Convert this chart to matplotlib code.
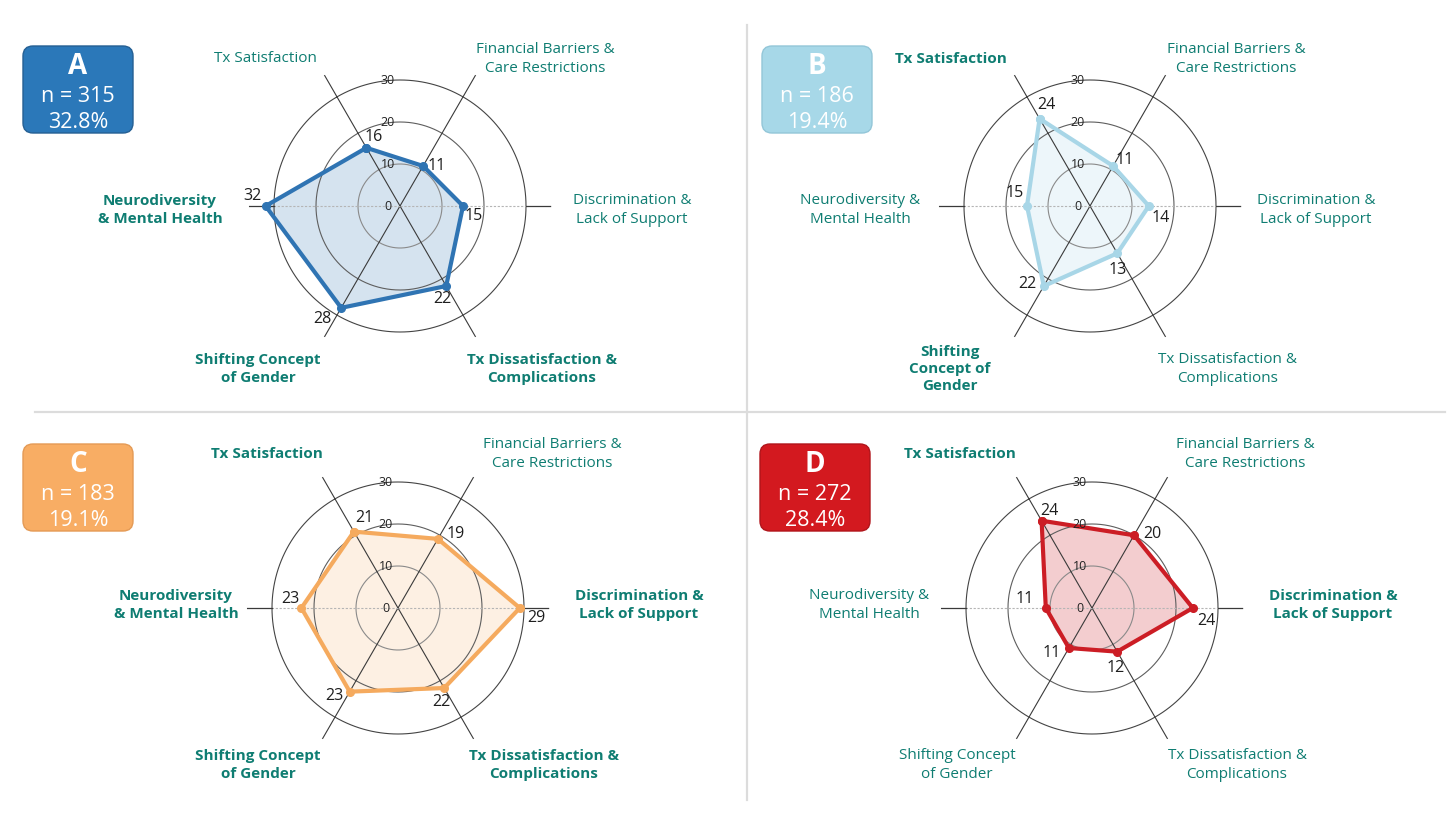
import numpy as np
import matplotlib
matplotlib.use('Agg')
import matplotlib.pyplot as plt
from matplotlib.patches import FancyBboxPatch

plt.rcParams['font.family'] = ['Open Sans', 'DejaVu Sans']

# ---- data ----
categories = ['Tx Satisfaction', 'Financial Barriers & Care Restrictions',
              'Discrimination & Lack of Support', 'Tx Dissatisfaction & Complications',
              'Shifting Concept of Gender', 'Neurodiversity & Mental Health']
panel_ids = ['A', 'B', 'C', 'D']
n_sizes = [315, 186, 183, 272]
pct = ['32.8%', '19.4%', '19.1%', '28.4%']
vals_A = [16, 11, 15, 22, 28, 32]
vals_B = [24, 11, 14, 13, 22, 15]
vals_C = [21, 19, 29, 22, 23, 23]
vals_D = [24, 20, 24, 12, 11, 11]
r_ticks = [0, 10, 20, 30]

# wrapped label text + which labels are bold in each panel
lab_AC = ['Tx Satisfaction', 'Financial Barriers &\nCare Restrictions', 'Discrimination &\nLack of Support',
          'Tx Dissatisfaction &\nComplications', 'Shifting Concept\nof Gender', 'Neurodiversity\n& Mental Health']
lab_B = ['Tx Satisfaction', 'Financial Barriers &\nCare Restrictions', 'Discrimination &\nLack of Support',
         'Tx Dissatisfaction &\nComplications', 'Shifting\nConcept of\nGender', 'Neurodiversity &\nMental Health']
lab_D = ['Tx Satisfaction', 'Financial Barriers &\nCare Restrictions', 'Discrimination &\nLack of Support',
         'Tx Dissatisfaction &\nComplications', 'Shifting Concept\nof Gender', 'Neurodiversity &\nMental Health']
bold_A = [0, 0, 0, 1, 1, 1]
bold_B = [1, 0, 0, 0, 1, 0]
bold_C = [1, 0, 1, 1, 1, 1]
bold_D = [1, 0, 1, 0, 0, 0]

# ---- styling / layout ----
W, H = 1456, 825
centers = [(400, 206), (1090, 206), (398, 608), (1092, 608)]
px_per_unit = 4.2
rmax = 36
line_cols = ['#2f74b3', '#a8d6e7', '#f5aa5e', '#cc1d25']
fill_alpha = [0.2, 0.2, 0.17, 0.22]
box_cols = ['#2b78b9', '#a7d8e8', '#f8ad64', '#d3191f']
box_edges = ['#245f93', '#93c6d8', '#e49a55', '#b0141a']
box_pos = [(23, 46), (762, 46), (23, 444), (760, 444)]
teal = '#0f7d72'
# category label centres, pixels from the chart centre (right/down positive), per panel
lab_off = [
    [(-135, -147), (145, -147), (232, 4), (142, 163), (-142, 163), (-240, 4)],
    [(-139, -147), (146, -147), (226, 4), (138, 163), (-140, 163), (-230, 4)],
    [(-131, -154), (154, -154), (241, -3), (146, 157), (-140, 157), (-222, -3)],
    [(-132, -154), (153, -154), (241, -3), (145, 157), (-135, 157), (-223, -3)],
]
val_off = [
    [(7, -11), (14, 0), (11, 10), (-4, 13), (-19, 11), (-13, -10)],
    [(7, -14), (12, -6), (12, 12), (0, 17), (-16, -2), (-12, -13)],
    [(10, -14), (18, -5), (17, 10), (-3, 14), (-15, 4), (-11, -9)],
    [(8, -10), (18, -1), (14, 13), (-2, 16), (-17, 5), (-21, -9)],
]

fig = plt.figure(figsize=(W / 100, H / 100), dpi=100)
bg = fig.add_axes([0, 0, 1, 1], zorder=0)
bg.set_xlim(0, W)
bg.set_ylim(H, 0)
bg.axis('off')

# divider lines
bg.plot([747, 747], [25, 800], color='#dcdcdc', lw=1.6)
bg.plot([35, 1445], [412, 412], color='#dcdcdc', lw=1.6)

all_vals = [vals_A, vals_B, vals_C, vals_D]
all_labs = [lab_AC, lab_B, lab_AC, lab_D]
all_bold = [bold_A, bold_B, bold_C, bold_D]
theta = np.arange(len(categories)) * 2 * np.pi / len(categories)

for k in range(4):
    cx, cy = centers[k]
    half = rmax * px_per_unit
    ax = fig.add_axes([(cx - half) / W, (H - cy - half) / H, 2 * half / W, 2 * half / H],
                      projection='polar', zorder=2)
    ax.patch.set_alpha(0)
    ax.set_theta_offset(np.radians(120))
    ax.set_theta_direction(-1)
    ax.set_ylim(0, rmax)
    ax.spines['polar'].set_visible(False)
    ax.set_xticks([])
    ax.set_yticks([])
    ax.grid(False)

    # rings
    ring_t = np.linspace(0, 2 * np.pi, 361)
    for r, c in zip(r_ticks[1:], ['#8a8a8a', '#5e5e5e', '#444444']):
        ax.plot(ring_t, np.full_like(ring_t, r), color=c, lw=0.8, zorder=1)
    # spokes
    for i, t in enumerate(theta):
        if i in (2, 5):
            ax.plot([t, t], [0, 30], color='#b5b5b5', lw=0.8, ls=(0, (2, 1.5)), zorder=1)
            ax.plot([t, t], [30, rmax], color='#3a3a3a', lw=0.9, zorder=1)
        else:
            ax.plot([t, t], [0, rmax], color='#3a3a3a', lw=0.8, zorder=1)

    v = all_vals[k]
    tt = np.append(theta, theta[0])
    vv = np.append(v, v[0])
    ax.fill(tt, vv, color=line_cols[k], alpha=fill_alpha[k], lw=0, zorder=0.5)
    ax.plot(tt, vv, color=line_cols[k], lw=3, marker='o', ms=5.5, zorder=3,
            solid_joinstyle='miter')

    # radial labels along the upward direction
    for r in r_ticks:
        ax.annotate(str(r), xy=(np.radians(30), r), xytext=(-12, 0), textcoords='offset pixels',
                    ha='center', va='center', fontsize=9, color='#222222', zorder=4)
    # value labels
    for i, t in enumerate(theta):
        dx, dy = val_off[k][i]
        ax.annotate(str(v[i]), xy=(t, v[i]), xytext=(dx, -dy), textcoords='offset pixels',
                    ha='center', va='center', fontsize=11.5, color='#1e1e1e', zorder=4)

    # category labels
    for i in range(len(categories)):
        dx, dy = lab_off[k][i]
        bg.text(cx + dx, cy + dy, all_labs[k][i], ha='center', va='center', fontsize=11,
                color=teal, fontweight='bold' if all_bold[k][i] else 'normal', linespacing=1.3)

    # cluster box
    bx, by = box_pos[k]
    bg.add_patch(FancyBboxPatch((bx + 9, by + 9), 110 - 18, 87 - 18,
                                boxstyle='round,pad=9,rounding_size=10',
                                fc=box_cols[k], ec=box_edges[k], lw=1))
    bg.text(bx + 55, by + 21, panel_ids[k], ha='center', va='center', fontsize=20,
            fontweight='bold', color='white')
    bg.text(bx + 55, by + 50, f'n = {n_sizes[k]}', ha='center', va='center', fontsize=15.5,
            color='white')
    bg.text(bx + 55, by + 76, pct[k], ha='center', va='center', fontsize=15.5, color='white')

fig.savefig('out.png', dpi=100, facecolor='white')
